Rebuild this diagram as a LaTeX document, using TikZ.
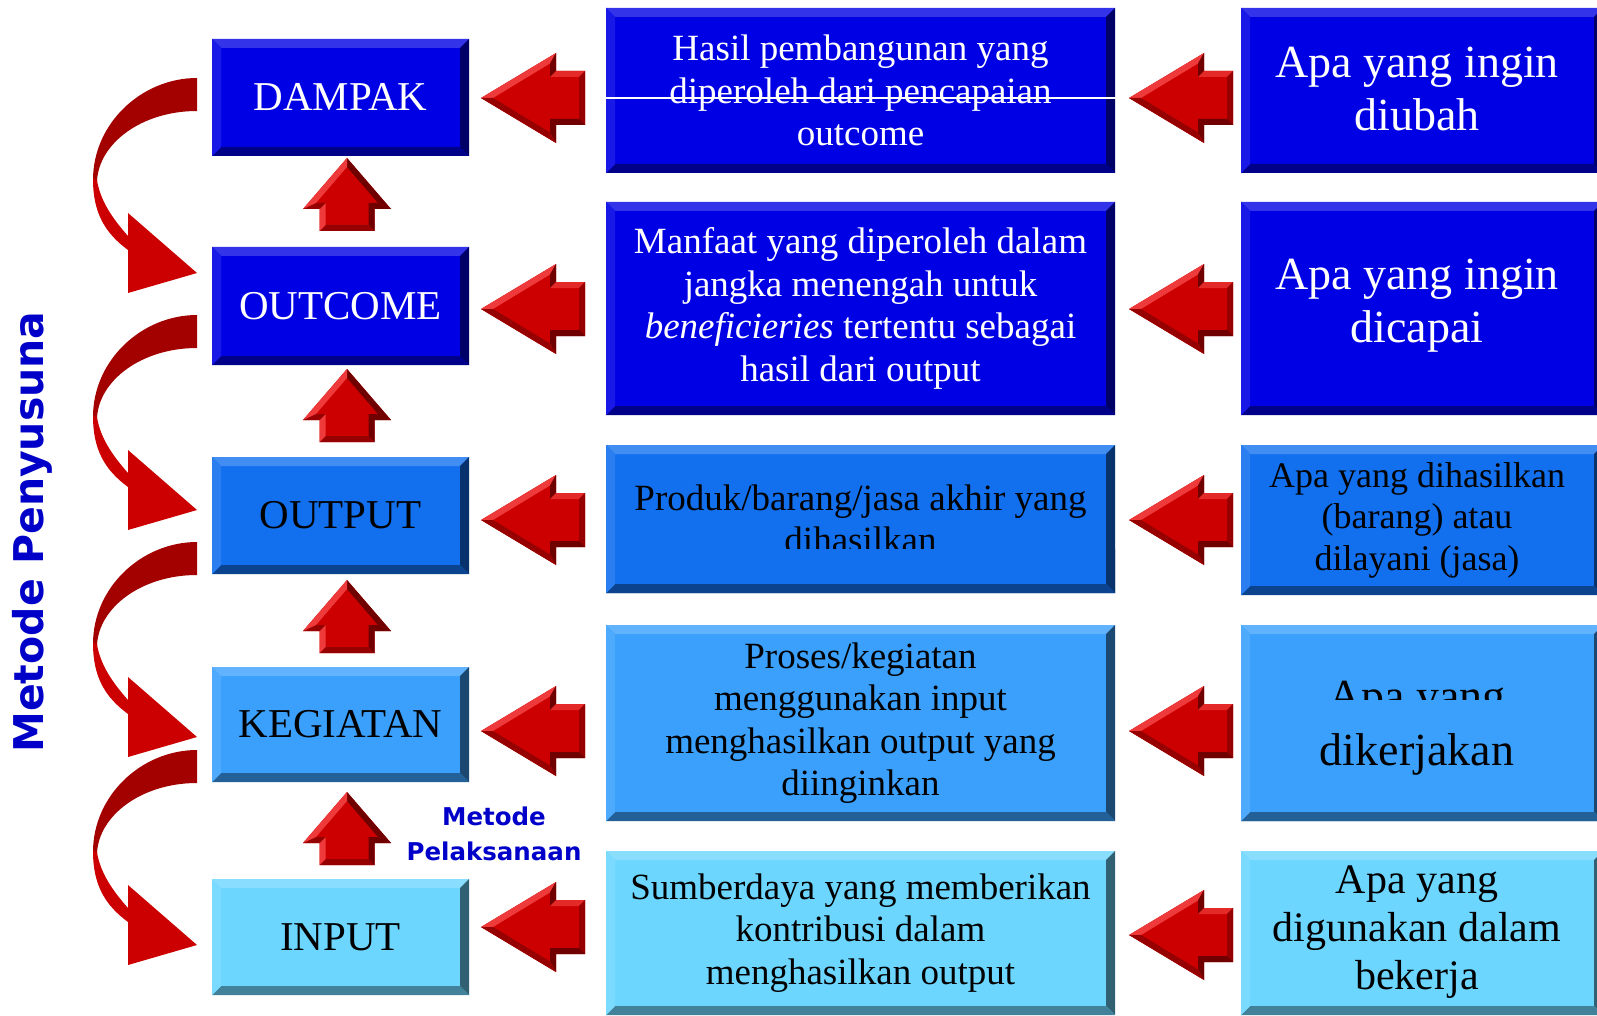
\documentclass[tikz,border=0pt]{standalone}
\usepackage{fontspec}
\setmainfont{Liberation Serif}
\newfontfamily\sansf{DejaVu Sans}
\usetikzlibrary{calc}
\definecolor{dblue}{RGB}{0,0,228}
\definecolor{mblue}{RGB}{18,112,238}
\definecolor{lblue}{RGB}{58,160,252}
\definecolor{cblue}{RGB}{108,214,255}
\definecolor{rmid}{RGB}{204,0,0}
\definecolor{rlight}{RGB}{238,58,58}
\definecolor{rdark}{RGB}{112,0,0}
\definecolor{rdk}{RGB}{150,0,0}
\definecolor{rcurveup}{RGB}{163,0,0}
\definecolor{rcurvelo}{RGB}{204,0,0}
\definecolor{labblue}{RGB}{0,0,200}

\newcommand\bevel[3]{%
 \fill[#2!80!white] (#1.north west) -- (#1.north east) -- ($(#1.north east)+(-#3,#3)$) -- ($(#1.north west)+(#3,#3)$) -- cycle;
 \fill[#2!45!black] (#1.north east) -- (#1.south east) -- ($(#1.south east)+(-#3,-#3)$) -- ($(#1.north east)+(-#3,#3)$) -- cycle;
 \fill[#2!60!black] (#1.south east) -- (#1.south west) -- ($(#1.south west)+(#3,-#3)$) -- ($(#1.south east)+(-#3,-#3)$) -- cycle;
 \fill[#2!90!white] (#1.south west) -- (#1.north west) -- ($(#1.north west)+(#3,#3)$) -- ($(#1.south west)+(#3,-#3)$) -- cycle;
}
\newcommand\bevelnt[3]{%
 \fill[#2!45!black] (#1.north east) -- (#1.south east) -- ($(#1.south east)+(-#3,-#3)$) -- ($(#1.north east)+(-#3,0)$) -- cycle;
 \fill[#2!60!black] (#1.south east) -- (#1.south west) -- ($(#1.south west)+(#3,-#3)$) -- ($(#1.south east)+(-#3,-#3)$) -- cycle;
 \fill[#2!90!white] (#1.south west) -- (#1.north west) -- ($(#1.north west)+(#3,0)$) -- ($(#1.south west)+(#3,-#3)$) -- cycle;
}
\newcommand\LArr[1]{\begin{scope}[shift={(#1)}]
 \fill[rmid] (0,0)--(75,-45)--(75,-27)--(104,-27)--(104,27)--(75,27)--(75,45)--cycle;
 \fill[rlight] (0,0)--(75,-45)--(69,-34.5)--(12,0)--cycle;
 \fill[rdark] (75,-45)--(75,-27)--(69,-21)--(69,-34.5)--cycle;
 \fill[rlight!70!rmid] (75,-27)--(104,-27)--(98,-21)--(69,-21)--cycle;
 \fill[rdk] (104,-27)--(104,27)--(98,21)--(98,-21)--cycle;
 \fill[rdark] (104,27)--(75,27)--(69,21)--(98,21)--cycle;
 \fill[rdark] (75,27)--(75,45)--(69,34.5)--(69,21)--cycle;
 \fill[rdk] (75,45)--(0,0)--(12,0)--(69,34.5)--cycle;
\end{scope}}
\newcommand\UArr[1]{\begin{scope}[shift={(#1)}]
 \fill[rmid] (0,0)--(44,51)--(27.5,51)--(27.5,73)--(-27.5,73)--(-27.5,51)--(-44,51)--cycle;
 \fill[rdark] (0,0)--(44,51)--(31,45)--(0,9)--cycle;
 \fill[rdark] (44,51)--(27.5,51)--(21.5,45)--(31,45)--cycle;
 \fill[rdark] (27.5,51)--(27.5,73)--(21.5,67)--(21.5,45)--cycle;
 \fill[rdk] (27.5,73)--(-27.5,73)--(-21.5,67)--(21.5,67)--cycle;
 \fill[rlight] (-27.5,73)--(-27.5,51)--(-21.5,45)--(-21.5,67)--cycle;
 \fill[rdk] (-27.5,51)--(-44,51)--(-31,45)--(-21.5,45)--cycle;
 \fill[rlight] (-44,51)--(0,0)--(0,9)--(-31,45)--cycle;
\end{scope}}
\newcommand\CArr[1]{\begin{scope}[shift={(#1)}]
 \fill[rcurveup] (0,0) .. controls (-55,0) and (-104,45) .. (-104,102) -- (-100,103) .. controls (-98,65) and (-55,33) .. (0,33) -- cycle;
 \fill[rcurvelo] (-104,101) .. controls (-104,135) and (-92,155) .. (-69,172) -- (-69,215) -- (0,195) -- (-69,135) -- (-69,158) .. controls (-85,140) and (-97,122) .. (-100,102) -- cycle;
\end{scope}}

\begin{document}
\begin{tikzpicture}[x=1pt,y=-1pt,
  box/.style={rectangle, inner sep=0pt, outer sep=0pt, draw=none, align=center},
  c1box/.style={box, minimum width=257pt},
  c2box/.style={box, minimum width=509pt, font={\fontsize{37}{42.5}\selectfont}},
  c3box/.style={box, minimum width=362pt},
  lab1/.style={font={\fontsize{41}{46}\selectfont}},
  big3/.style={align=center, font={\fontsize{46}{53}\selectfont}},
  mid3/.style={align=center, font={\fontsize{36}{41.5}\selectfont}},
  sm3/.style={align=center, font={\fontsize{42}{48}\selectfont}}]
\useasboundingbox (0,0) rectangle (1597,1016);
\fill[white] (0,0) rectangle (1597,1016);

% column 1
\node[c1box, lab1, fill=dblue, minimum height=117pt, text=white] (a1) at (340.5,97.5) {DAMPAK};
\node[c1box, lab1, fill=dblue, minimum height=118pt, text=white] (a2) at (340.5,306) {OUTCOME};
\node[c1box, lab1, fill=mblue, minimum height=117pt] (a3) at (340.5,515.5) {OUTPUT};
\node[c1box, lab1, fill=lblue, minimum height=115pt] (a4) at (340.5,724.5) {KEGIATAN};
\node[c1box, lab1, fill=cblue, minimum height=116pt] (a5) at (340.5,937) {INPUT};
\bevel{a1}{dblue}{9}\bevel{a2}{dblue}{9}\bevel{a3}{mblue}{9}\bevel{a4}{lblue}{9}\bevel{a5}{cblue}{9}

% column 2
\node[c2box, fill=dblue, minimum height=165pt, text=white] (b1) at (860.5,90.5) {Hasil pembangunan yang\\diperoleh dari pencapaian\\outcome};
\node[c2box, fill=dblue, minimum height=213pt, text=white] (b2) at (860.5,308.5) {Manfaat yang diperoleh dalam\\jangka menengah untuk\\\textit{beneficieries} tertentu sebagai\\hasil dari output};
\node[c2box, fill=mblue, minimum height=148pt] (b3) at (860.5,519) {Produk/barang/jasa akhir yang\\dihasilkan};
\node[c2box, fill=lblue, minimum height=196pt] (b4) at (860.5,723) {Proses/kegiatan\\menggunakan input\\menghasilkan output yang\\diinginkan};
\node[c2box, fill=cblue, minimum height=164pt] (b5) at (860.5,933) {Sumberdaya yang memberikan\\kontribusi dalam\\menghasilkan output};
\bevel{b1}{dblue}{9}\bevel{b2}{dblue}{9}\bevel{b3}{mblue}{9}\bevel{b4}{lblue}{9}\bevel{b5}{cblue}{9}
\node[box, fill=mblue, minimum width=509pt, minimum height=44pt] (b3low) at (860.5,571) {};
\bevelnt{b3low}{mblue}{9}
\coordinate (wl1) at (606,98);
\coordinate (wl2) at (1118,98);
\draw[white, line width=1.3pt] (wl1) -- (wl2);

% column 3
\node[c3box, fill=dblue, minimum height=165pt] (c1) at (1422,90.5) {};
\node[c3box, fill=dblue, minimum height=213pt] (c2) at (1422,308.5) {};
\node[c3box, fill=mblue, minimum height=150pt] (c3) at (1422,520) {};
\node[c3box, fill=lblue, minimum height=196pt] (c4) at (1422,723) {};
\node[c3box, fill=cblue, minimum height=164pt] (c5) at (1422,933) {};
\bevel{c1}{dblue}{9}\bevel{c2}{dblue}{9}\bevel{c3}{mblue}{9}\bevel{c4}{lblue}{9}\bevel{c5}{cblue}{9}
\node[big3, text=white] (t1) at ($(c1.center)+(-5,-2)$) {Apa yang ingin\\diubah};
\node[big3, text=white] (t2) at ($(c2.center)+(-5,-3)$) {Apa yang ingin\\dicapai};
\node[mid3] (t3) at ($(c3.center)+(-5,0)$) {Apa yang dihasilkan\\(barang) atau\\dilayani (jasa)};
\node[big3, anchor=base] (t4a) at (1417,711) {Apa yang};
\node[box, fill=lblue, minimum width=362pt, minimum height=121pt] (c4low) at (1422,760.5) {};
\bevelnt{c4low}{lblue}{9}
\node[big3, anchor=base] (t4b) at (1417,765) {dikerjakan};
\node[sm3] (t5) at ($(c5.center)+(-5,-1)$) {Apa yang\\digunakan dalam\\bekerja};

% block arrows
\coordinate (la1) at (481,98);  \coordinate (la2) at (481,309);
\coordinate (la3) at (481,520); \coordinate (la4) at (481,731);
\coordinate (la5) at (481,927);
\coordinate (ra1) at (1129,98);  \coordinate (ra2) at (1129,309);
\coordinate (ra3) at (1129,520); \coordinate (ra4) at (1129,731);
\coordinate (ra5) at (1129,935);
\coordinate (ua1) at (347,158); \coordinate (ua2) at (347,369);
\coordinate (ua3) at (347,580); \coordinate (ua4) at (347,792);
\coordinate (ca1) at (197,78);  \coordinate (ca2) at (197,315);
\coordinate (ca3) at (197,542); \coordinate (ca4) at (197,750);
\LArr{la1}\LArr{la2}\LArr{la3}\LArr{la4}\LArr{la5}
\LArr{ra1}\LArr{ra2}\LArr{ra3}\LArr{ra4}\LArr{ra5}
\UArr{ua1}\UArr{ua2}\UArr{ua3}\UArr{ua4}
\CArr{ca1}\CArr{ca2}\CArr{ca3}\CArr{ca4}

% labels
\node[rotate=90, anchor=base, text=labblue, font={\sansf\bfseries\fontsize{41}{48}\selectfont}] (mp) at (43,532) {Metode Penyusuna};
\node[align=center, text=labblue, font={\sansf\bfseries\fontsize{24.5}{35}\selectfont}] (ml) at (494,834) {Metode\\Pelaksanaan};
\end{tikzpicture}
\end{document}
